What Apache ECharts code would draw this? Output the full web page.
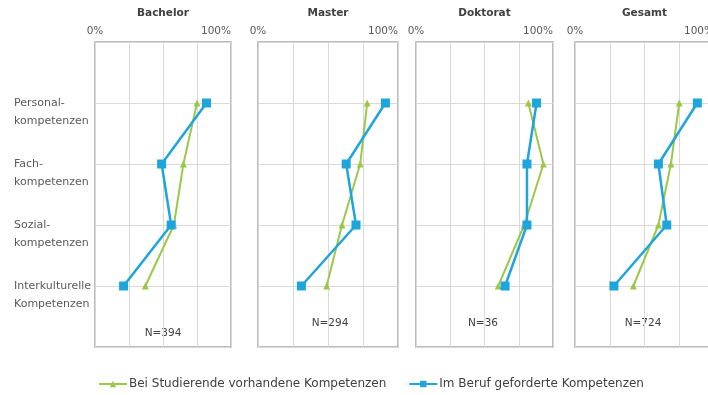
<!DOCTYPE html>
<html><head><meta charset="utf-8">
<script src="https://cdn.jsdelivr.net/npm/echarts@6/dist/echarts.min.js"></script>
<style>html,body{margin:0;padding:0;background:#fff}#c{width:708px;height:395px}</style>
</head><body><div id="c"></div>
<script>
const categories = ["Personal-\nkompetenzen", "Fach-\nkompetenzen", "Sozial-\nkompetenzen", "Interkulturelle\nKompetenzen"];
const panels = ["Bachelor", "Master", "Doktorat", "Gesamt"];
const sampleSizes = ["N=394", "N=294", "N=36", "N=724"];
const seriesNames = ["Bei Studierende vorhandene Kompetenzen", "Im Beruf geforderte Kompetenzen"];
// values in % per category (Personal, Fach, Sozial, Interkulturell)
const vorhandenBachelor = [75, 65, 58, 37];
const gefordertBachelor = [82, 49, 56, 21];
const vorhandenMaster = [78, 73, 60, 49];
const gefordertMaster = [91, 63, 70, 31];
const vorhandenDoktorat = [82, 93, 79, 60];
const gefordertDoktorat = [88, 81, 81, 65];
const vorhandenGesamt = [75, 69, 60, 42];
const gefordertGesamt = [88, 60, 66, 28];
const xTicks = ["0%", "100%"];

const vorhanden = [vorhandenBachelor, vorhandenMaster, vorhandenDoktorat, vorhandenGesamt];
const gefordert = [gefordertBachelor, gefordertMaster, gefordertDoktorat, gefordertGesamt];

const FONT = '"DejaVu Sans", sans-serif';
const gridPos = [
  {left: 95, width: 136},
  {left: 258, width: 140},
  {left: 416, width: 137},
  {left: 575, width: 139}
];
const nPos = [[163, 333], [330, 323], [483, 323], [643, 323]];
const GREEN = '#9cc84a', BLUE = '#1ea5dc';

const grid = gridPos.map(g => ({left: g.left, width: g.width, top: 42, height: 305,
  outerBoundsMode: 'none', containLabel: false,
  show: true, borderColor: '#a6a6a6', borderWidth: 1.5, backgroundColor: 'transparent'}));

const xAxis = panels.map((p, i) => ({
  type: 'value', gridIndex: i, min: 0, max: 100, interval: 25, position: 'top',
  name: p, nameLocation: 'middle', nameGap: 23,
  nameTextStyle: {fontFamily: FONT, fontWeight: 'bold', fontSize: 10.5, color: '#404040'},
  axisLine: {show: false}, axisTick: {show: false},
  axisLabel: {fontFamily: FONT, fontSize: 10.5, color: '#595959', margin: 5,
    alignMaxLabel: 'right',
    formatter: v => v === 0 ? xTicks[0] : (v === 100 ? xTicks[1] : '')},
  splitLine: {show: true, lineStyle: {color: '#d9d9d9', width: 1}}
}));

const yAxis = panels.map((p, i) => ({
  type: 'value', gridIndex: i, min: 0, max: 5, interval: 1, inverse: true,
  axisLine: {show: false}, axisTick: {show: false},
  axisLabel: {show: i === 0, fontFamily: FONT, fontSize: 11, color: '#595959',
    align: 'left', margin: 81, lineHeight: 18,
    formatter: v => (v >= 1 && v <= 4) ? '\n' + categories[v - 1] : ''},
  splitLine: {show: true, lineStyle: {color: '#d9d9d9', width: 1}}
}));

const series = [];
panels.forEach((p, i) => {
  series.push({
    name: seriesNames[0], type: 'line', xAxisIndex: i, yAxisIndex: i,
    data: vorhanden[i].map((v, k) => [v, k + 1]),
    symbol: 'triangle', symbolSize: 7,
    lineStyle: {color: GREEN, width: 2}, itemStyle: {color: GREEN},
    z: 2, animation: false
  });
  series.push({
    name: seriesNames[1], type: 'line', xAxisIndex: i, yAxisIndex: i,
    data: gefordert[i].map((v, k) => [v, k + 1]),
    symbol: 'rect', symbolSize: 9,
    lineStyle: {color: BLUE, width: 2.5}, itemStyle: {color: BLUE},
    z: 3, animation: false
  });
});

const graphic = sampleSizes.map((t, i) => ({
  type: 'text', x: nPos[i][0], y: nPos[i][1],
  style: {text: t, fontFamily: FONT, fontSize: 10.5, fill: '#404040', textAlign: 'center', textVerticalAlign: 'middle'}
}));

const chart = echarts.init(document.getElementById('c'), null, {renderer: 'canvas'});
chart.setOption({
  animation: false,
  grid, xAxis, yAxis, series, graphic,
  legend: {
    data: seriesNames, left: 93, top: 373, itemWidth: 28, itemHeight: 8, itemGap: 22,
    textStyle: {fontFamily: FONT, fontSize: 12, color: '#404040', padding: [0, 0, 0, -3]}
  }
});
</script></body></html>
